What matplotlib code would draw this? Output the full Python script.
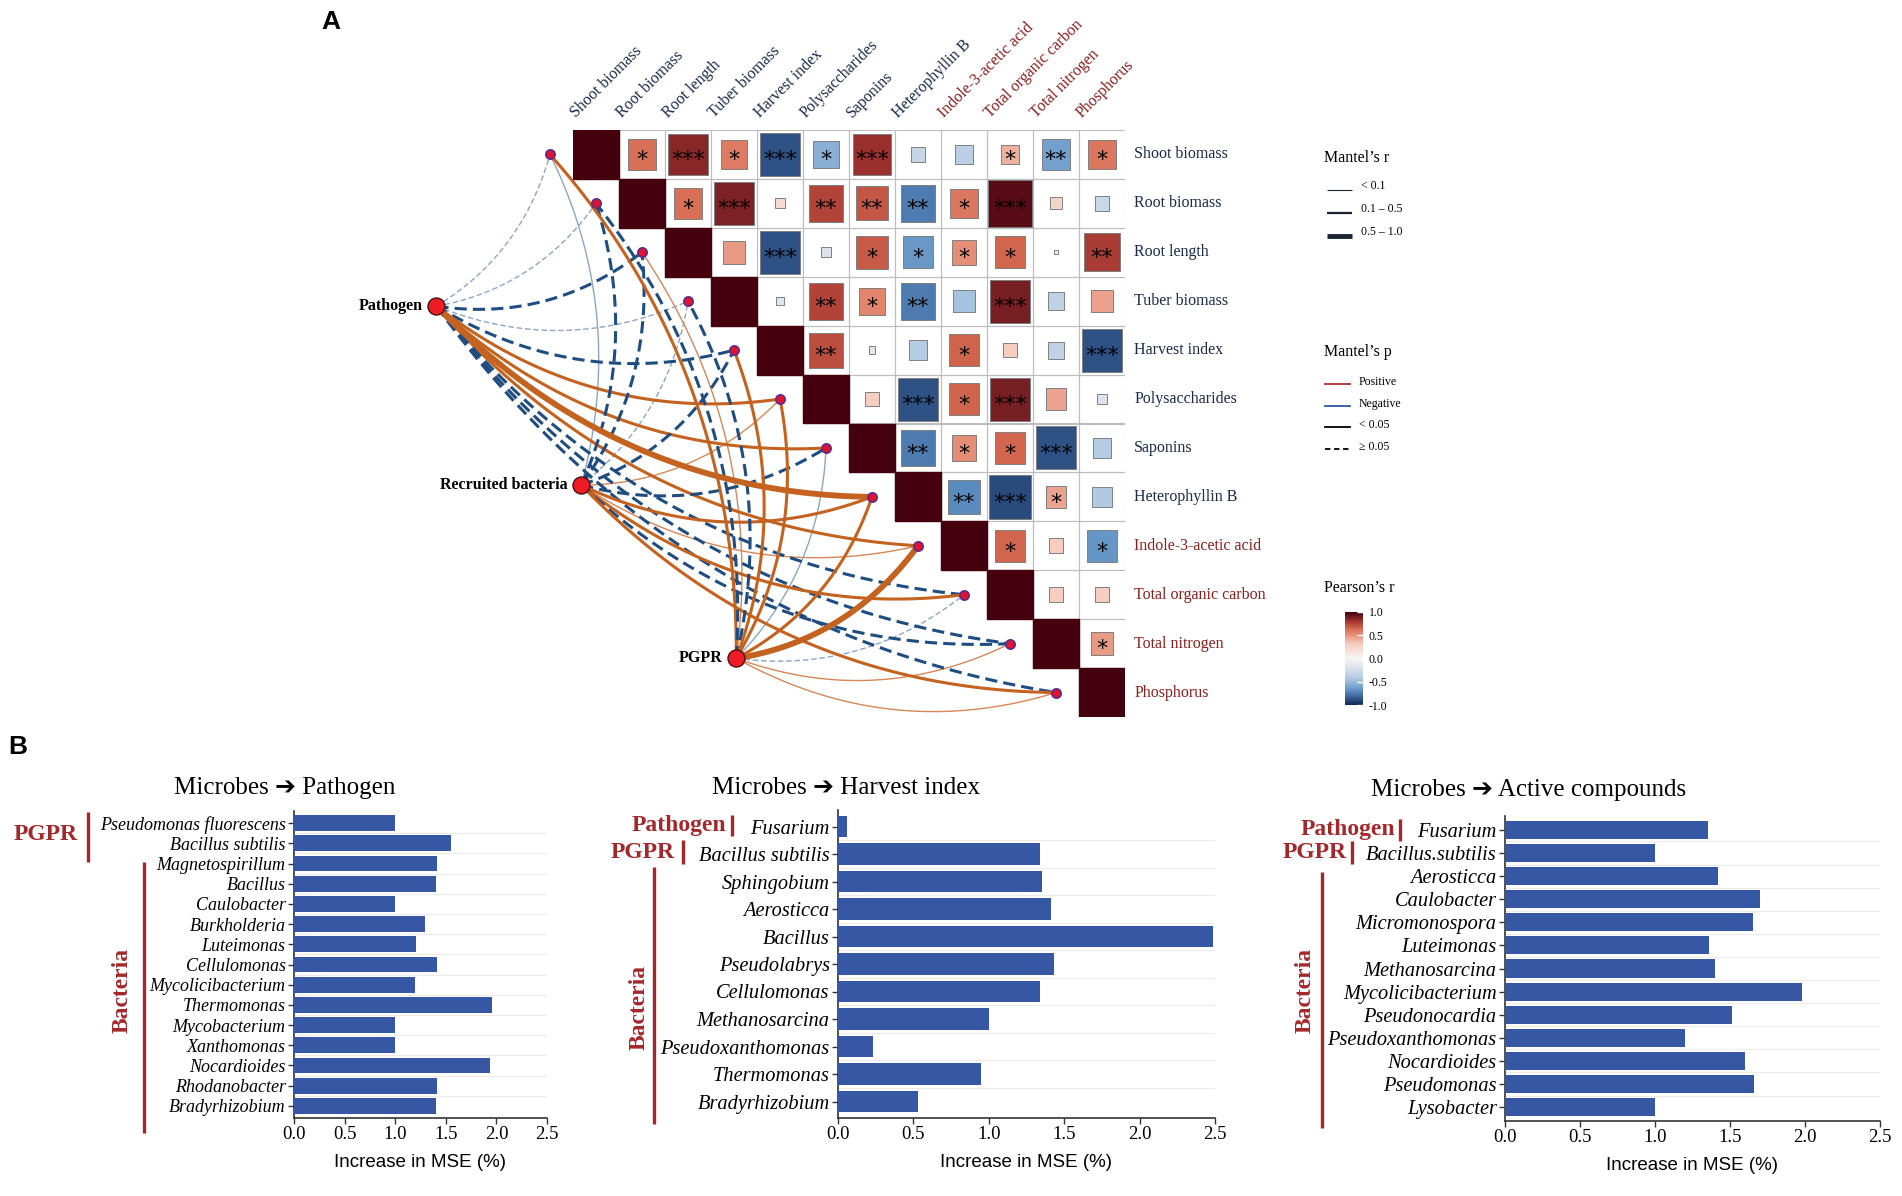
import numpy as np
import matplotlib
matplotlib.use("Agg")
import matplotlib.pyplot as plt
from matplotlib.colors import LinearSegmentedColormap, Normalize
from matplotlib.patches import Rectangle
from matplotlib.cm import ScalarMappable

plt.rcParams['font.family'] = ['Liberation Serif', 'DejaVu Serif']
plt.rcParams['axes.unicode_minus'] = False

# ---------------- panel A data ----------------
env_vars = ["Shoot biomass", "Root biomass", "Root length", "Tuber biomass",
            "Harvest index", "Polysaccharides", "Saponins", "Heterophyllin B",
            "Indole-3-acetic acid", "Total organic carbon", "Total nitrogen", "Phosphorus"]
env_is_soil = [0, 0, 0, 0, 0, 0, 0, 0, 1, 1, 1, 1]

# Pearson's r, upper triangle, row i holds columns i+1..11
pearson_rows = [
    [0.62, 0.85, 0.58, -0.88, -0.55, 0.82, -0.32, -0.38, 0.40, -0.62, 0.60],
    [0.62, 0.87, 0.20, 0.75, 0.70, -0.75, 0.60, 0.95, 0.25, -0.30],
    [0.48, -0.88, -0.20, 0.68, -0.65, 0.52, 0.65, -0.08, 0.78],
    [-0.17, 0.75, 0.55, -0.75, -0.46, 0.88, -0.36, 0.46],
    [0.72, -0.15, -0.40, 0.66, 0.30, -0.35, -0.88],
    [0.30, -0.88, 0.66, 0.88, 0.45, -0.20],
    [-0.75, 0.52, 0.65, -0.88, -0.40],
    [-0.70, -0.90, 0.45, -0.42],
    [0.65, 0.30, -0.66],
    [0.30, 0.30],
    [0.48],
]
star_rows = [
    ["*", "***", "*", "***", "*", "***", "", "", "*", "**", "*"],
    ["*", "***", "", "**", "**", "**", "*", "***", "", ""],
    ["", "***", "", "*", "*", "*", "*", "", "**"],
    ["", "**", "*", "**", "", "***", "", ""],
    ["**", "", "", "*", "", "", "***"],
    ["", "***", "*", "***", "", ""],
    ["**", "*", "*", "***", ""],
    ["**", "***", "*", ""],
    ["*", "", "*"],
    ["", ""],
    ["*"],
]

# Mantel tests: sign (+1/-1), p<0.05 (1/0), r class (0:<0.1, 1:0.1-0.5, 2:0.5-1.0)
sources = ["Pathogen", "Recruited bacteria", "PGPR"]
mantel_sign = [
    [-1, -1, -1, -1, -1, 1, 1, 1, 1, -1, -1, -1],
    [-1, -1, -1, -1, -1, 1, -1, 1, 1, 1, -1, 1],
    [1, -1, 1, -1, 1, 1, -1, 1, 1, -1, 1, 1],
]
mantel_sig = [
    [0, 0, 0, 0, 0, 1, 1, 1, 1, 0, 0, 0],
    [1, 0, 0, 0, 0, 1, 0, 1, 1, 1, 0, 1],
    [1, 0, 1, 0, 1, 1, 1, 1, 1, 0, 1, 1],
]
mantel_rclass = [
    [0, 0, 1, 0, 1, 1, 1, 2, 1, 1, 1, 1],
    [0, 1, 1, 0, 1, 0, 1, 1, 0, 1, 1, 1],
    [1, 1, 0, 1, 1, 1, 0, 1, 2, 0, 0, 0],
]

# ---------------- panel B data ----------------
path_labels = ["Pseudomonas fluorescens", "Bacillus subtilis", "Magnetospirillum", "Bacillus",
               "Caulobacter", "Burkholderia", "Luteimonas", "Cellulomonas", "Mycolicibacterium",
               "Thermomonas", "Mycobacterium", "Xanthomonas", "Nocardioides", "Rhodanobacter",
               "Bradyrhizobium"]
path_mse = [1.00, 1.55, 1.41, 1.40, 1.00, 1.29, 1.21, 1.41, 1.20, 1.96, 1.00, 1.00, 1.94, 1.41, 1.40]

harv_labels = ["Fusarium", "Bacillus subtilis", "Sphingobium", "Aerosticca", "Bacillus",
               "Pseudolabrys", "Cellulomonas", "Methanosarcina", "Pseudoxanthomonas",
               "Thermomonas", "Bradyrhizobium"]
harv_mse = [0.06, 1.34, 1.35, 1.41, 2.49, 1.43, 1.34, 1.00, 0.23, 0.95, 0.53]

act_labels = ["Fusarium", "Bacillus.subtilis", "Aerosticca", "Caulobacter", "Micromonospora",
              "Luteimonas", "Methanosarcina", "Mycolicibacterium", "Pseudonocardia",
              "Pseudoxanthomonas", "Nocardioides", "Pseudomonas", "Lysobacter"]
act_mse = [1.35, 1.00, 1.42, 1.70, 1.65, 1.36, 1.40, 1.98, 1.51, 1.20, 1.60, 1.66, 1.00]

NAVY = '#1B2A4A'
DRED = '#8B1E1E'
GRED = '#A3282B'
W, H = 1902, 1196

fig = plt.figure(figsize=(W / 100, H / 100), dpi=100)

# overlay in pixel units for labels / legends
ov = fig.add_axes([0, 0, 1, 1])
ov.set_xlim(0, W)
ov.set_ylim(H, 0)
ov.axis('off')
ov.patch.set_alpha(0)

cmap = LinearSegmentedColormap.from_list('pr', [
    (0.00, '#0E2350'), (0.05, '#2B4C7E'), (0.075, '#345C90'), (0.15, '#5A8CC0'),
    (0.20, '#7BA6D0'), (0.30, '#B7CDE4'), (0.40, '#DCE3EC'), (0.50, '#F7F4F2'),
    (0.65, '#F5CFC2'), (0.75, '#E8957E'), (0.825, '#D4674F'), (0.90, '#A33530'),
    (0.95, '#6E1A20'), (1.00, '#45000D')])
norm = Normalize(-1, 1)

# ---------------- heatmap ----------------
ax = fig.add_axes([573 / W, 1 - 717 / H, 552 / W, 587 / H])
ax.set_xlim(0, 12)
ax.set_ylim(12, 0)
ax.axis('off')
n = len(env_vars)
for i in range(n):
    for j in range(i, n):
        ax.add_patch(Rectangle((j, i), 1, 1, fill=False, ec='#BDBDBD', lw=0.8, zorder=1))
    ax.add_patch(Rectangle((i, i), 1, 1, color=cmap(norm(1.0)), zorder=2))
    for k, r in enumerate(pearson_rows[i] if i < n - 1 else []):
        j = i + 1 + k
        s = abs(r)
        ax.add_patch(Rectangle((j + 0.5 - s / 2, i + 0.5 - s / 2), s, s,
                               fc=cmap(norm(r)), ec='#7F7F7F', lw=0.7, zorder=2))
        if star_rows[i][k]:
            ax.text(j + 0.5, i + 0.62, star_rows[i][k], ha='center', va='center',
                    fontsize=16, family='DejaVu Sans', color='black', zorder=3)
for i, name in enumerate(env_vars):
    col = DRED if env_is_soil[i] else NAVY
    ax.text(12.2, i + 0.5, name, ha='left', va='center', fontsize=11.5, color=col)
    ax.text(i + 0.12, -0.18, name, rotation=45, rotation_mode='anchor', ha='left',
            va='bottom', fontsize=11.5, color=col)

# ---------------- mantel network ----------------
node_pos = {"Pathogen": (-2.97, 3.6), "Recruited bacteria": (0.18, 7.26), "PGPR": (3.55, 10.8)}
dot_x = np.arange(n) - 0.5
dot_y = np.arange(n) + 0.5
lw_map = [1.0, 2.2, 4.2]


def curve(p0, p2, c=0.2, m=80):
    p0 = np.asarray(p0, float)
    p2 = np.asarray(p2, float)
    d = p2 - p0
    ctrl = (p0 + p2) / 2 + c * np.array([-d[1], d[0]])
    t = np.linspace(0, 1, m)[:, None]
    return (1 - t) ** 2 * p0 + 2 * (1 - t) * t * ctrl + t ** 2 * p2


edges = []
for si, src in enumerate(sources):
    for ti in range(n):
        edges.append((mantel_rclass[si][ti], si, ti))
edges.sort()
for rc, si, ti in edges:
    sign = mantel_sign[si][ti]
    sig = mantel_sig[si][ti]
    if sign > 0:
        col = '#D4875A' if rc == 0 else '#C4621F'
    else:
        col = '#8EA5C2' if rc == 0 else '#1F4D80'
    pts = curve(node_pos[sources[si]], (dot_x[ti], dot_y[ti]))
    ax.plot(pts[:, 0], pts[:, 1], color=col, lw=lw_map[rc],
            ls='-' if sig else (0, (4, 2)), clip_on=False, zorder=4,
            solid_capstyle='butt')

ax.scatter(dot_x, dot_y, s=45, c='#E3122C', edgecolors='#5B2C8F', linewidths=1.2,
           zorder=6, clip_on=False)
for src in sources:
    x, y = node_pos[src]
    ax.scatter([x], [y], s=150, c='#EE1C24', edgecolors='#4A1010', linewidths=1,
               zorder=7, clip_on=False)
    ax.text(x - 0.3, y, src, ha='right', va='center', fontsize=11.5, fontweight='bold',
            color='black', zorder=7)

# ---------------- legends for A ----------------
ov.text(1324, 158, "Mantel\u2019s r", fontsize=11.5, va='center')
for y, lw, lab in zip([190, 213, 236], [0.8, 1.6, 3.5], ["< 0.1", "0.1 \u2013 0.5", "0.5 \u2013 1.0"]):
    ov.plot([1327, 1352], [y, y], color='#1C2433', lw=lw, solid_capstyle='butt')
    ov.text(1361, y - 4, lab, fontsize=8.5, va='center')
ov.text(1324, 352, "Mantel\u2019s p", fontsize=11.5, va='center')
for y, col, ls, lab in zip([384, 406, 427, 449],
                           ['#A5302A', '#2F55A8', 'black', 'black'],
                           ['-', '-', '-', (0, (3, 2))],
                           ["Positive", "Negative", "< 0.05", "\u2265 0.05"]):
    ov.plot([1325, 1350], [y, y], color=col, lw=1.3, ls=ls)
    ov.text(1359, y - 2, lab, fontsize=8.5, va='center')
ov.text(1324, 588, "Pearson\u2019s r", fontsize=11.5, va='center')

cax = fig.add_axes([1345 / W, 1 - 705 / H, 18 / W, 93 / H])
sm = ScalarMappable(norm=norm, cmap=cmap)
cb = fig.colorbar(sm, cax=cax, ticks=[1, 0.5, 0, -0.5, -1])
cb.ax.set_yticklabels(['1.0', '0.5', '0.0', '-0.5', '-1.0'], fontsize=8.5)
cb.outline.set_visible(False)
cb.ax.tick_params(length=4, color='white', direction='in', width=1, pad=4)

ov.text(331, 22, "A", fontsize=19, fontweight='bold', family='Liberation Sans',
        ha='center', va='center')
ov.text(18, 747, "B", fontsize=19, fontweight='bold', family='Liberation Sans',
        ha='center', va='center')

# ---------------- panel B ----------------
charts = [
    (path_labels, path_mse, "Microbes \u2794 Pathogen", (294, 547, 811, 1118), 285, 788, 13),
    (harv_labels, harv_mse, "Microbes \u2794 Harvest index", (838, 1215, 810, 1118), 846, 788, 14.7),
    (act_labels, act_mse, "Microbes \u2794 Active compounds", (1505, 1880, 816, 1121), 1529, 790, 14.7),
]
for labels, vals, title, (x0, x1, y0, y1), tx, ty, fs in charts:
    bx = fig.add_axes([x0 / W, 1 - y1 / H, (x1 - x0) / W, (y1 - y0) / H])
    m = len(labels)
    bx.barh(np.arange(m), vals, height=0.78, color='#3557A4', zorder=3)
    bx.set_xlim(0, 2.5)
    bx.set_ylim(m - 0.4, -0.6)
    bx.set_yticks(np.arange(m))
    bx.set_yticklabels(labels, fontstyle='italic', fontsize=fs)
    bx.set_xticks([0, 0.5, 1.0, 1.5, 2.0, 2.5])
    bx.set_xticklabels(['0.0', '0.5', '1.0', '1.5', '2.0', '2.5'], fontsize=13.5)
    bx.set_yticks(np.arange(m - 1) + 0.5, minor=True)
    bx.grid(which='minor', axis='y', color='#EBEBEB', lw=0.8)
    bx.set_axisbelow(True)
    bx.tick_params(which='minor', length=0)
    bx.tick_params(which='major', length=4, color='#333333', width=1, pad=2)
    for sp in ['top', 'right']:
        bx.spines[sp].set_visible(False)
    for sp in ['left', 'bottom']:
        bx.spines[sp].set_color('#333333')
        bx.spines[sp].set_linewidth(1.2)
    bx.set_xlabel("Increase in MSE (%)", fontsize=13.5, family='Liberation Sans', labelpad=8)
    ov.text(tx, ty, title, fontsize=18, ha='center', va='center',
            family=['Liberation Serif', 'DejaVu Sans'])

# group brackets
brackets = [
    # (text, text_x, text_y, rotated, line_x, line_y0, line_y1)
    ("PGPR", 78, 835, False, 88, 812, 862),
    ("Bacteria", 122, 990, True, 144, 862, 1133),
    ("Pathogen", 726, 826, False, 732, 815, 836),
    ("PGPR", 675, 853, False, 683, 840, 864),
    ("Bacteria", 639, 1007, True, 654, 867, 1124),
    ("Pathogen", 1395, 829, False, 1400, 819, 841),
    ("PGPR", 1347, 853, False, 1352, 841, 864),
    ("Bacteria", 1305, 990, True, 1322, 872, 1128),
]
for txt, tx, ty, rot, lx, ly0, ly1 in brackets:
    if rot:
        ov.text(tx, ty, txt, rotation=90, ha='center', va='center', fontsize=17,
                fontweight='bold', color=GRED)
    else:
        ov.text(tx, ty, txt, ha='right', va='center', fontsize=17, fontweight='bold', color=GRED)
    ov.plot([lx, lx], [ly0, ly1], color=GRED, lw=2.4, solid_capstyle='butt')

fig.savefig("out.png", dpi=100)
